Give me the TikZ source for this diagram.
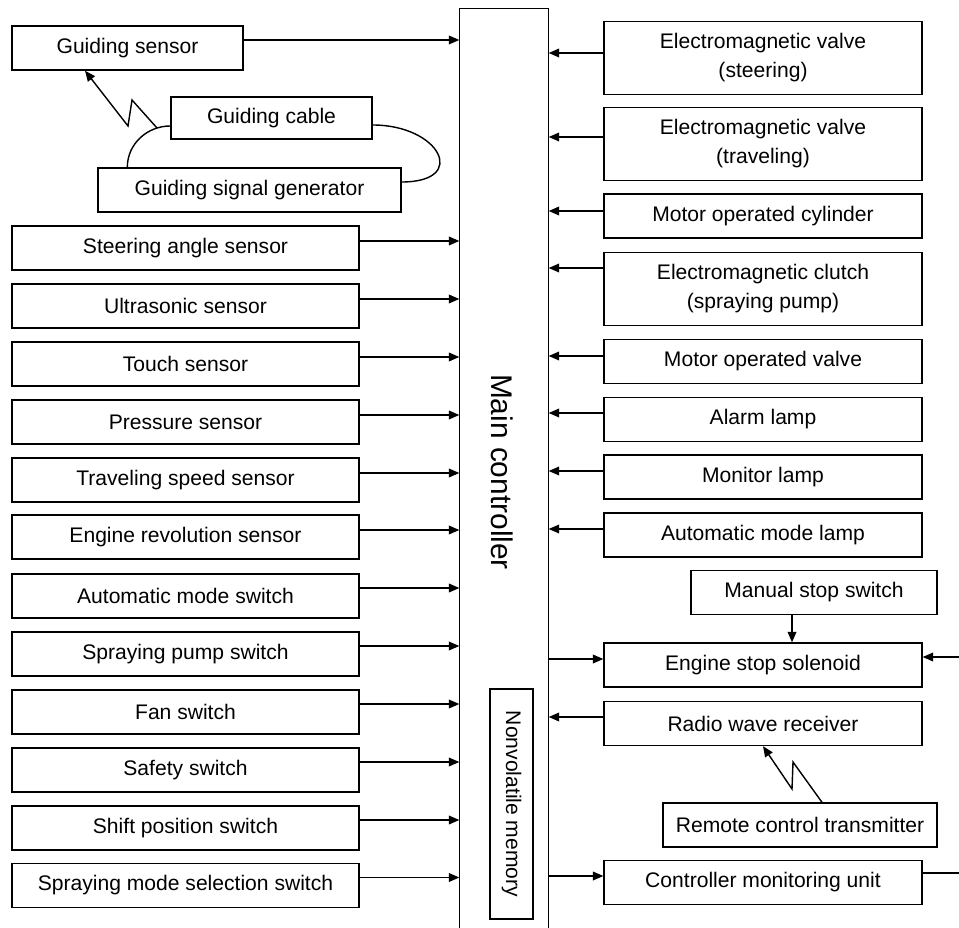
\documentclass[tikz,border=0pt]{standalone}
\usepackage{fontspec}
\setmainfont{Liberation Sans}
\usetikzlibrary{arrows.meta}

\begin{document}
\begin{tikzpicture}[x=0.02cm, y=-0.02cm, line width=0.8pt, font=\fontsize{12}{16.5}\selectfont,
	box/.style = {draw, inner sep=0pt, minimum height=0.88cm, align=center},
	lbox/.style = {box, minimum width=6.94cm},
	rbox/.style = {box, minimum width=6.36cm},
	arr/.style = {-{Triangle[length=6pt,width=5pt]}}]
					\useasboundingbox (0,0) rectangle (959,928);
					\node[minimum width=1.76cm, minimum height=18.38cm, inner sep=0pt] (ctrl) at (504,468.5) {};
					\draw (ctrl.south west) |- (ctrl.north east) -- (ctrl.south east);
					\node[rotate=-90, font=\fontsize{17}{20}\selectfont] (ctrllabel) at (502,472) {Main controller};
					\node[box, rotate=-90, minimum width=4.6cm, minimum height=0.86cm] (memory) at (511.5,804) {Nonvolatile memory};

					\node[box, minimum width=4.62cm] (gsensor) at (127.5,48) {Guiding sensor};
					\node[box, minimum width=4.02cm, minimum height=0.84cm] (gcable) at (271.5,118) {Guiding cable};
					\node[box, minimum width=6.06cm] (gen) at (249.5,190) {Guiding signal generator};
					\node[lbox] (steer) at (185.5,248) {Steering angle sensor};
					\node[lbox] (ultra) at (185.5,306) {Ultrasonic sensor};
					\node[lbox] (touch) at (185.5,364) {Touch sensor};
					\node[lbox] (press) at (185.5,422) {Pressure sensor};
					\node[lbox] (speed) at (185.5,480) {Traveling speed sensor};
					\node[lbox] (engine) at (185.5,537) {Engine revolution sensor};
					\node[lbox] (automode) at (185.5,596) {Automatic mode switch};
					\node[lbox] (pumpsw) at (185.5,654) {Spraying pump switch};
					\node[lbox] (fansw) at (185.5,712) {Fan switch};
					\node[lbox] (safety) at (185.5,770) {Safety switch};
					\node[lbox] (shift) at (185.5,828) {Shift position switch};
					\node[lbox] (spraymode) at (185.5,885.5) {Spraying mode selection switch};

					\node[rbox, minimum height=1.46cm] (evsteer) at (763,58) {Electromagnetic valve\\(steering)};
					\node[rbox, minimum height=1.46cm] (evtravel) at (763,144) {Electromagnetic valve\\(traveling)};
					\node[rbox] (cylinder) at (763,216) {Motor operated cylinder};
					\node[rbox, minimum height=1.46cm] (clutch) at (763,289) {Electromagnetic clutch\\(spraying pump)};
					\node[rbox] (mvalve) at (763,361.5) {Motor operated valve};
					\node[rbox] (alarm) at (763,419.5) {Alarm lamp};
					\node[rbox] (monitor) at (763,477) {Monitor lamp};
					\node[rbox] (autolamp) at (763,535) {Automatic mode lamp};
					\node[box, minimum width=4.92cm] (manualstop) at (814,592.5) {Manual stop switch};
					\node[rbox] (stopsol) at (763,665) {Engine stop solenoid};
					\node[rbox] (receiver) at (763,723.5) {Radio wave receiver};
					\node[box, minimum width=5.48cm] (transmitter) at (800,825) {Remote control transmitter};
					\node[rbox] (monunit) at (763,882.5) {Controller monitoring unit};

					\draw (gcable.east) ++(0,-0.14cm) to[out=0, in=0, looseness=2.7] ([yshift=0.16cm]gen.east);
					\draw ([yshift=-0.16cm]gcable.west) to[out=180, in=90] ([xshift=0.6cm]gen.north west);
					\coordinate (gwave) at (157,128);
					\draw[arr] (gwave) -- (132,100) -- (128,126) -- ([xshift=-0.85cm]gsensor.south);
					\draw[arr] ([yshift=0.16cm]gsensor.east) -- ([yshift=0.16cm]gsensor.east -| ctrl.west);

					\draw[arr] ([yshift=0.14cm]steer.east) -- ([yshift=0.14cm]steer.east -| ctrl.west);
					\draw[arr] ([yshift=0.14cm]ultra.east) -- ([yshift=0.14cm]ultra.east -| ctrl.west);
					\draw[arr] ([yshift=0.14cm]touch.east) -- ([yshift=0.14cm]touch.east -| ctrl.west);
					\draw[arr] ([yshift=0.14cm]press.east) -- ([yshift=0.14cm]press.east -| ctrl.west);
					\draw[arr] ([yshift=0.14cm]speed.east) -- ([yshift=0.14cm]speed.east -| ctrl.west);
					\draw[arr] ([yshift=0.14cm]engine.east) -- ([yshift=0.14cm]engine.east -| ctrl.west);
					\draw[arr] ([yshift=0.16cm]automode.east) -- ([yshift=0.16cm]automode.east -| ctrl.west);
					\draw[arr] ([yshift=0.16cm]pumpsw.east) -- ([yshift=0.16cm]pumpsw.east -| ctrl.west);
					\draw[arr] ([yshift=0.16cm]fansw.east) -- ([yshift=0.16cm]fansw.east -| ctrl.west);
					\draw[arr] ([yshift=0.16cm]safety.east) -- ([yshift=0.16cm]safety.east -| ctrl.west);
					\draw[arr] ([yshift=0.16cm]shift.east) -- ([yshift=0.16cm]shift.east -| ctrl.west);
					\draw[arr] ([yshift=0.16cm]spraymode.east) -- ([yshift=0.16cm]spraymode.east -| ctrl.west);

					\draw[arr] ([yshift=0.1cm]evsteer.west) -- ([yshift=0.1cm]evsteer.west -| ctrl.east);
					\draw[arr] ([yshift=0.14cm]evtravel.west) -- ([yshift=0.14cm]evtravel.west -| ctrl.east);
					\draw[arr] ([yshift=0.1cm]cylinder.west) -- ([yshift=0.1cm]cylinder.west -| ctrl.east);
					\draw[arr] ([yshift=0.42cm]clutch.west) -- ([yshift=0.42cm]clutch.west -| ctrl.east);
					\draw[arr] ([yshift=0.11cm]mvalve.west) -- ([yshift=0.11cm]mvalve.west -| ctrl.east);
					\draw[arr] ([yshift=0.13cm]alarm.west) -- ([yshift=0.13cm]alarm.west -| ctrl.east);
					\draw[arr] ([yshift=0.12cm]monitor.west) -- ([yshift=0.12cm]monitor.west -| ctrl.east);
					\draw[arr] ([yshift=0.12cm]autolamp.west) -- ([yshift=0.12cm]autolamp.west -| ctrl.east);
					\draw[arr] ([yshift=0.12cm]stopsol.west -| ctrl.east) -- ([yshift=0.12cm]stopsol.west);
					\draw[arr] ([yshift=0.13cm]receiver.west) -- ([yshift=0.13cm]receiver.west -| ctrl.east);
					\draw[arr] ([yshift=0.13cm]monunit.west -| ctrl.east) -- ([yshift=0.13cm]monunit.west);

					\draw[arr] ([xshift=-0.44cm]manualstop.south) -- ([xshift=-0.44cm]manualstop.south |- stopsol.north);
					\draw[arr] ([xshift=0.44cm]transmitter.north) -- (793,762) -- (792,789) -- (receiver.south);
					\coordinate (edgea) at (959,657);
					\coordinate (edgeb) at (959,873);
					\draw[arr] (edgea) -- (edgea -| stopsol.east);
					\draw (edgeb -| monunit.east) -- (edgeb);
\end{tikzpicture}
\end{document}
